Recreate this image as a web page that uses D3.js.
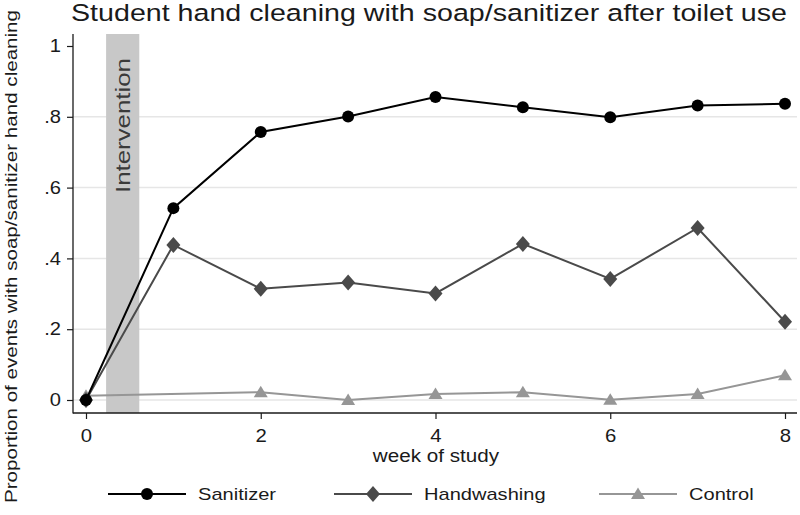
<!DOCTYPE html>
<html><head><meta charset="utf-8">
<script src="https://cdn.jsdelivr.net/npm/d3@7"></script>
<style>
html,body{margin:0;padding:0;background:#fff;}
svg text{font-family:"Liberation Sans",Arial,Helvetica,sans-serif;fill:#1a1a1a;}
</style></head>
<body>
<svg id="chart" width="800" height="515"></svg>
<script>
const weeks = [0,1,2,3,4,5,6,7,8];
const sanitizer   = [0, 0.542, 0.757, 0.801, 0.856, 0.827, 0.799, 0.832, 0.837];
const handwashing = [0, 0.438, 0.314, 0.332, 0.301, 0.441, 0.342, 0.486, 0.221];
const control     = [0.012, null, 0.022, 0.0, 0.017, 0.022, 0.001, 0.017, 0.070];
const xTicks = [0,2,4,6,8];
const yTicks = [0,0.2,0.4,0.6,0.8,1];
const yTickLabels = ["0",".2",".4",".6",".8","1"];
const gridTicks = [0,0.2,0.4,0.6,0.8];
const intervention = [0.23, 0.61];
const seriesNames = ["Sanitizer","Handwashing","Control"];
const titleText = "Student hand cleaning with soap/sanitizer after toilet use";
const yTitle = "Proportion of events with soap/sanitizer hand cleaning";
const xTitle = "week of study";

const svg = d3.select("#chart");
const x = d3.scaleLinear().domain([0,8]).range([86,785]);
const y = d3.scaleLinear().domain([0,1]).range([400,46]);
const plotTop = 34, plotBottom = 413, plotLeft = 73, plotRight = 797;

function stretch(sel, f){ sel.each(function(){ const L=this.getComputedTextLength(); d3.select(this).attr("textLength", L*f).attr("lengthAdjust","spacingAndGlyphs"); }); }
function fixLen(sel, L){ sel.attr("textLength", L).attr("lengthAdjust","spacingAndGlyphs"); }

// gridlines
svg.append("g").selectAll("line").data(gridTicks).join("line")
  .attr("x1",plotLeft).attr("x2",plotRight)
  .attr("y1",d=>y(d)).attr("y2",d=>y(d))
  .attr("stroke","#e6e6e6").attr("stroke-width",1.5);

// intervention band
svg.append("rect")
  .attr("x",x(intervention[0])).attr("width",x(intervention[1])-x(intervention[0]))
  .attr("y",plotTop).attr("height",plotBottom-plotTop)
  .attr("fill","#c8c8c8");
const it = svg.append("text").attr("transform",`translate(${(x(intervention[0])+x(intervention[1]))/2+7},125.5) rotate(-90)`)
  .attr("text-anchor","middle").attr("font-size",21).style("fill","#3a3a3a").text("Intervention");
fixLen(it,135);

// axes
const yAxis = d3.axisLeft(y).tickValues(yTicks).tickSize(6).tickPadding(6)
  .tickFormat((d,i)=>yTickLabels[i]);
const gy = svg.append("g").attr("transform",`translate(${plotLeft},0)`).call(yAxis);
gy.select(".domain").remove();
gy.selectAll(".tick line").attr("stroke","#1a1a1a").attr("stroke-width",1.2);
gy.selectAll(".tick text").attr("font-size",17.5).attr("font-family","Liberation Sans, Arial, sans-serif").style("fill","#1a1a1a");
stretch(gy.selectAll(".tick text"),1.15);

const xAxis = d3.axisBottom(x).tickValues(xTicks).tickSize(6).tickPadding(10).tickFormat(d3.format("d"));
const gx = svg.append("g").attr("transform",`translate(0,${plotBottom})`).call(xAxis);
gx.select(".domain").remove();
gx.selectAll(".tick line").attr("stroke","#1a1a1a").attr("stroke-width",1.2);
gx.selectAll(".tick text").attr("font-size",18.5).attr("font-family","Liberation Sans, Arial, sans-serif").style("fill","#1a1a1a");
stretch(gx.selectAll(".tick text"),1.1);

svg.append("line").attr("x1",plotLeft).attr("x2",plotLeft).attr("y1",plotTop).attr("y2",plotBottom+0.6).attr("stroke","#1a1a1a").attr("stroke-width",1.3);
svg.append("line").attr("x1",plotLeft).attr("x2",plotRight).attr("y1",plotBottom).attr("y2",plotBottom).attr("stroke","#1a1a1a").attr("stroke-width",1.3);

// titles
const t = svg.append("text").attr("x",71).attr("y",21).attr("font-size",24.5).text(titleText);
fixLen(t,716);
const xt = svg.append("text").attr("x",436).attr("y",462).attr("text-anchor","middle").attr("font-size",17.5).text(xTitle);
stretch(xt,1.18);
const yt = svg.append("text").attr("transform","translate(17,256.5) rotate(-90)").attr("text-anchor","middle").attr("font-size",16).text(yTitle);
fixLen(yt,493);

// series
const series = [
  {name:seriesNames[0], vals:sanitizer, color:"#000000", sym:"circle"},
  {name:seriesNames[1], vals:handwashing, color:"#4a4a4a", sym:"diamond"},
  {name:seriesNames[2], vals:control, color:"#969696", sym:"triangle"}
];
function marker(g, sym, color){
  if(sym==="circle") g.append("circle").attr("r",6).attr("fill",color);
  else if(sym==="diamond") g.append("path").attr("d","M0,-8L7,0L0,8L-7,0Z").attr("fill",color);
  else g.append("path").attr("d","M0,-6.5L7,5L-7,5Z").attr("fill",color);
}
const line = d3.line().x(d=>x(d.w)).y(d=>y(d.v));
// draw in reverse order so sanitizer on top
series.slice().reverse().forEach(s=>{
  const pts = weeks.map((w,i)=>({w, v:s.vals[i]})).filter(d=>d.v!==null);
  svg.append("path").datum(pts).attr("d",line).attr("fill","none").attr("stroke",s.color).attr("stroke-width",2);
  pts.forEach(p=>{
    const g = svg.append("g").attr("transform",`translate(${x(p.w)},${y(p.v)})`);
    marker(g, s.sym, s.color);
  });
});

// legend
const legX = [108, 334, 599];
const legY = 494;
series.forEach((s,i)=>{
  const g = svg.append("g").attr("transform",`translate(${legX[i]},${legY})`);
  g.append("line").attr("x1",0).attr("x2",78).attr("y1",0).attr("y2",0).attr("stroke",s.color).attr("stroke-width",2);
  const m = g.append("g").attr("transform","translate(39,0)");
  marker(m, s.sym, s.color);
  const tx = g.append("text").attr("x",90).attr("y",6).attr("font-size",17).text(s.name);
  stretch(tx,1.18);
});
</script>
</body></html>
